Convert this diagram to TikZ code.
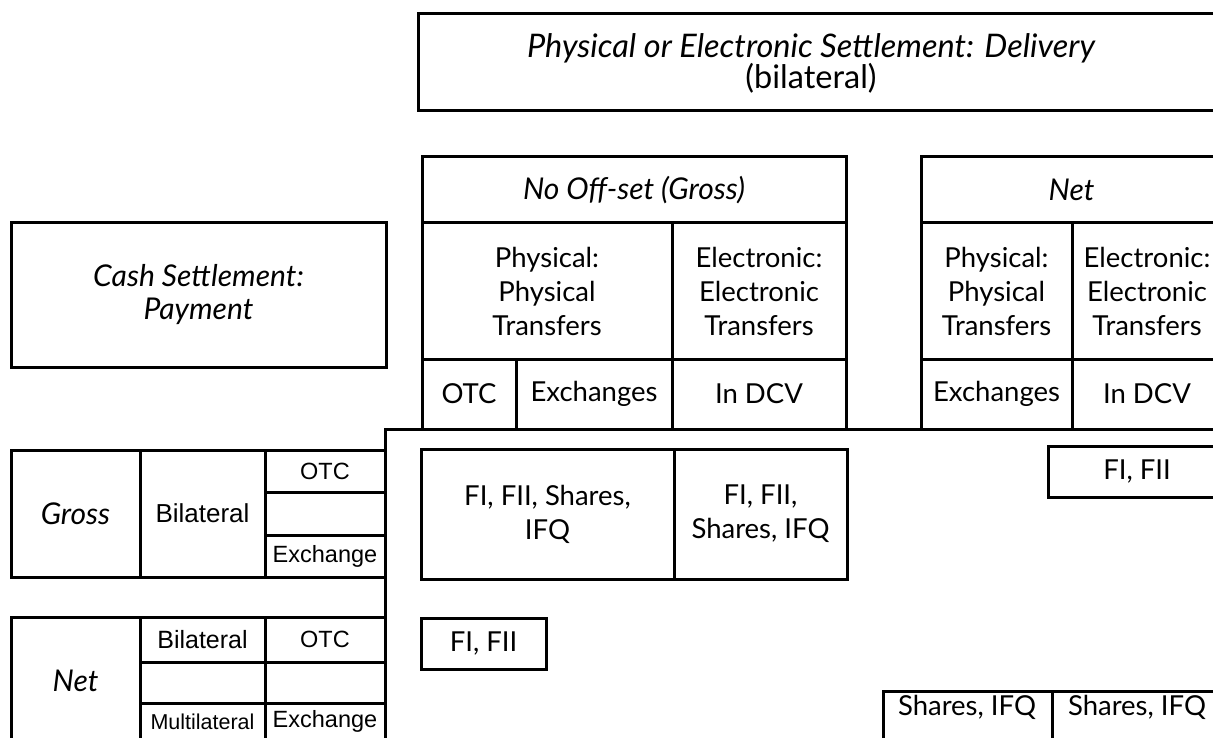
\documentclass[tikz,border=0pt]{standalone}
\usepackage{fontspec}
\setmainfont{Lato}
\newfontfamily\arialfam{Liberation Sans}
\newcommand\humsize{\fontsize{27.5}{34}\selectfont}
\newcommand\itsize{\fontsize{30}{33}\selectfont\itshape}
\newcommand\arsize{\arialfam\fontsize{23.5}{28}\selectfont}
% \boxcell[options]{name}{x1}{y1}{x2}{y2}{text}: a cell spanning two corners
\newcommand\boxcell[7][]{%
  \node[cell, minimum width={#5-#3}, minimum height={#6-#4}, #1] (#2)
    at ({(#3+#5)/2},{(#4+#6)/2}) {#7};}
\begin{document}
\begin{tikzpicture}[x=1pt,y=-1pt,
  cell/.style={draw, line width=3pt, inner sep=0pt, align=center, font=\humsize},
  acell/.style={font=\arsize},
  itcell/.style={font=\itsize},
  label/.style={inner sep=0pt, align=center, font=\humsize},
  link/.style={line width=3pt}]
\useasboundingbox (0,0) rectangle (1213,738);
\clip (0,0) rectangle (1213,738);

% delivery header
\boxcell{deliv}{418}{14}{1230}{111}{}
\node[label, font=\fontsize{32.5}{31}\selectfont\itshape] (delivtxt) at (811,63)
  {Physical or Electronic Settlement: Delivery\\\upshape(bilateral)};

% gross delivery table
\boxcell[itcell]{gtitle}{422}{157}{846}{223}{No Off-set (Gross)}
\boxcell{gphys}{422}{223}{672}{359}{Physical:\\Physical\\Transfers}
\boxcell{gelec}{672}{223}{846}{359}{Electronic:\\Electronic\\Transfers}
\boxcell{gotc}{422}{359}{516}{429}{OTC}
\boxcell{gexch}{516}{359}{672}{429}{Exchanges}
\boxcell{gdcv}{672}{359}{846}{429}{In DCV}

% net delivery table
\boxcell[itcell]{ntitle}{921}{157}{1222}{223}{Net}
\boxcell{nphys}{921}{223}{1072}{359}{Physical:\\Physical\\Transfers}
\boxcell{nelec}{1072}{223}{1222}{359}{Electronic:\\Electronic\\Transfers}
\boxcell{nexch}{921}{359}{1072}{429}{Exchanges}
\boxcell{ndcv}{1072}{359}{1222}{429}{In DCV}

% cash settlement
\boxcell[itcell]{cash}{11}{223}{386}{367}{Cash Settlement:\\Payment}

% gross payment
\boxcell[itcell]{pgross}{11}{450}{140}{577}{Gross}
\boxcell[acell, font=\arialfam\fontsize{26}{30}\selectfont]{pgbil}{140}{450}{265}{577}{Bilateral}
\boxcell[acell]{pgotc}{265}{450}{385}{492}{OTC}
\boxcell[acell]{pgmid}{265}{492}{385}{535}{}
\boxcell[acell]{pgexch}{265}{535}{385}{577}{Exchange}

% net payment
\boxcell[itcell]{pnet}{11}{617}{140}{745}{Net}
\boxcell[acell, font=\arialfam\fontsize{25}{30}\selectfont]{pnbil}{140}{617}{265}{662}{Bilateral}
\boxcell[acell]{pnotc}{265}{617}{385}{662}{OTC}
\boxcell[acell]{pnmida}{140}{662}{265}{703}{}
\boxcell[acell]{pnmidb}{265}{662}{385}{703}{}
\boxcell[acell, font=\arialfam\fontsize{21.5}{26}\selectfont]{pnmul}{140}{703}{265}{740}{Multilateral}
\boxcell[acell]{pnexch}{265}{703}{385}{740}{Exchange}

% bracket separating payment from delivery
\coordinate (corner) at (385,429);
\coordinate (hend) at (1230,429);
\coordinate (vend) at (385,750);
\draw[link] (vend) -- (corner) -- (hend);

% instruments
\boxcell{insa}{421}{449}{674}{579}{FI, FII, Shares,\\IFQ}
\boxcell{insb}{674}{449}{847}{579}{FI, FII,\\Shares, IFQ}
\boxcell{insc}{421}{618}{546}{669}{FI, FII}
\boxcell{insd}{1048}{446}{1226}{497}{FI, FII}
\boxcell{inse}{883}{691}{1052}{760}{}
\node[label] (insetxt) at (967,707) {Shares, IFQ};
\boxcell{insf}{1052}{691}{1222}{760}{}
\node[label] (insftxt) at (1137,707) {Shares, IFQ};
\end{tikzpicture}
\end{document}
